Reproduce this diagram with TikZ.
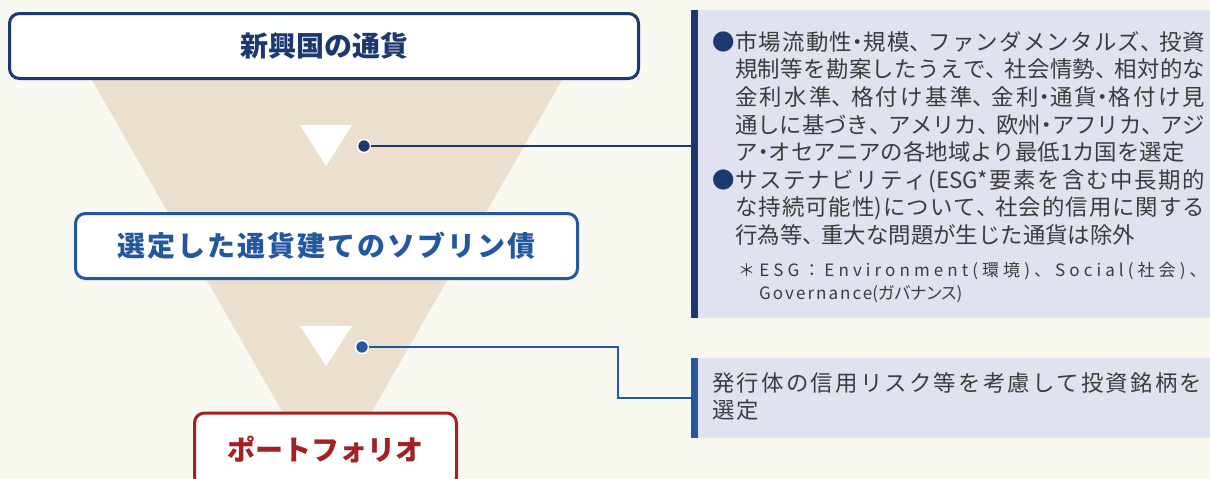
\documentclass[tikz,border=0pt]{standalone}
\usepackage{fontspec}
\setmainfont{Noto Sans CJK JP}
\usetikzlibrary{positioning}

\XeTeXlinebreaklocale "ja"
\XeTeXlinebreakskip=0pt plus 2pt minus 0.3pt

\definecolor{bgcream}{HTML}{F9F8F1}
\definecolor{funnelbeige}{HTML}{EDDFCD}
\definecolor{navy}{HTML}{1B3870}
\definecolor{midblue}{HTML}{2358A0}
\definecolor{wine}{HTML}{A32125}
\definecolor{lavender}{HTML}{E0E3EF}
\definecolor{textgrey}{HTML}{3C3C3C}

\newcommand{\bul}{\leavevmode\llap{\makebox[23pt][l]{\textcolor{navy}{●}}}}
\newcommand{\nk}{\makebox[0.5em][c]{・}}
\newcommand{\tc}{\makebox[0.85em][l]{、}}

\tikzset{
  stagebox/.style={draw, fill=white, rounded corners=10pt, line width=3pt,
    inner sep=0pt, font=\fontsize{28}{32}\selectfont\bfseries},
  hubdot/.style={circle, draw=white, line width=1.5pt, minimum size=13pt, inner sep=0pt},
  notepanel/.style={fill=lavender, anchor=north west, inner sep=0pt},
  notetext/.style={anchor=north west, text=textgrey, align=left, inner sep=0pt,
    font=\fontsize{22.4}{27.6}\selectfont},
}

\begin{document}
\begin{tikzpicture}[x=1pt,y=-1pt]
    \fill[bgcream] (0,0) rectangle (1210,479);
    \useasboundingbox (0,0) rectangle (1210,479);
    \clip (0,0) rectangle (1210,479);
    % funnel
    \fill[funnelbeige] (92,80) -- (562,80) -- (367,420) -- (287,420) -- cycle;
    \fill[white] (300,125) -- (352,125) -- (326,166) -- cycle;
    \fill[white] (300,326) -- (352,326) -- (326,366) -- cycle;
    % stages
    \node[stagebox, draw=navy, text=navy, minimum width=629pt, minimum height=65pt]
        (emerging) at (324,46) {新興国の通貨};
    \node[stagebox, draw=midblue, text=midblue, minimum width=502pt, minimum height=65pt,
        font=\fontsize{28}{32}\selectfont\bfseries\addfontfeatures{LetterSpace=7}]
        (sovereign) at (326.5,246) {選定した通貨建てのソブリン債};
    \node[stagebox, draw=wine, text=wine, minimum width=262pt, minimum height=74pt]
        (portfolio) at (325.5,450) {ポートフォリオ};
    % panels
    \node[notepanel, minimum width=520pt, minimum height=308pt] (esgpanel) at (691,10) {};
    \fill[navy] (esgpanel.north west) rectangle ([xshift=7pt]esgpanel.south west);
    \node[notetext, text width=470pt, align=justify] (esgtext) at (735,31) {%
        \parindent=0pt
        \bul 市場流動性\nk 規模\tc ファンダメンタルズ\tc 投資\linebreak
        規制等を勘案したうえで\tc 社会情勢\tc 相対的な\linebreak
        金利水準\tc 格付け基準\tc 金利\nk 通貨\nk 格付け見\linebreak
        通しに基づき\tc アメリカ\tc 欧州\nk アフリカ\tc アジ\linebreak
        ア\nk オセアニアの各地域より最低1カ国を選定\par
        \bul サステナビリティ(ESG*要素を含む中長期的\linebreak
        な持続可能性)について\tc 社会的信用に関する\linebreak
        行為等\tc 重大な問題が生じた通貨は除外\par};
    \node[notetext, text width=480pt, font=\XeTeXlinebreaklocale ""\fontsize{17}{23.5}\selectfont]
        (esgnote) at (738,262) {%
        {\addfontfeatures{LetterSpace=24}＊ESG：Environment(環境)、Social(社会)、}\\
        \hspace*{21pt}{\addfontfeatures{LetterSpace=12}Governance}%
        {\addfontfeatures{RawFeature=+palt}(ガバナンス)}};
    \node[notepanel, minimum width=520pt, minimum height=80pt] (issuerpanel) at (691,358) {};
    \fill[midblue] (issuerpanel.north west) rectangle ([xshift=7pt]issuerpanel.south west);
    \node[notetext, text width=500pt,
        font=\XeTeXlinebreaklocale ""\fontsize{22.4}{27}\selectfont\addfontfeatures{LetterSpace=10}]
        (issuertext) at (712,372) {発行体の信用リスク等を考慮して投資銘柄を\\選定};
    % connectors
    \node[hubdot, fill=navy] (dotA) at (364,146) {};
    \node[hubdot, fill=midblue] (dotB) at (362,347) {};
    \coordinate (bend) at (618,347);
    \draw[navy, line width=2pt] (dotA) -- (dotA -| esgpanel.west);
    \draw[midblue, line width=2pt] (dotB) -- (bend) |- (issuerpanel.west);
\end{tikzpicture}
\end{document}
